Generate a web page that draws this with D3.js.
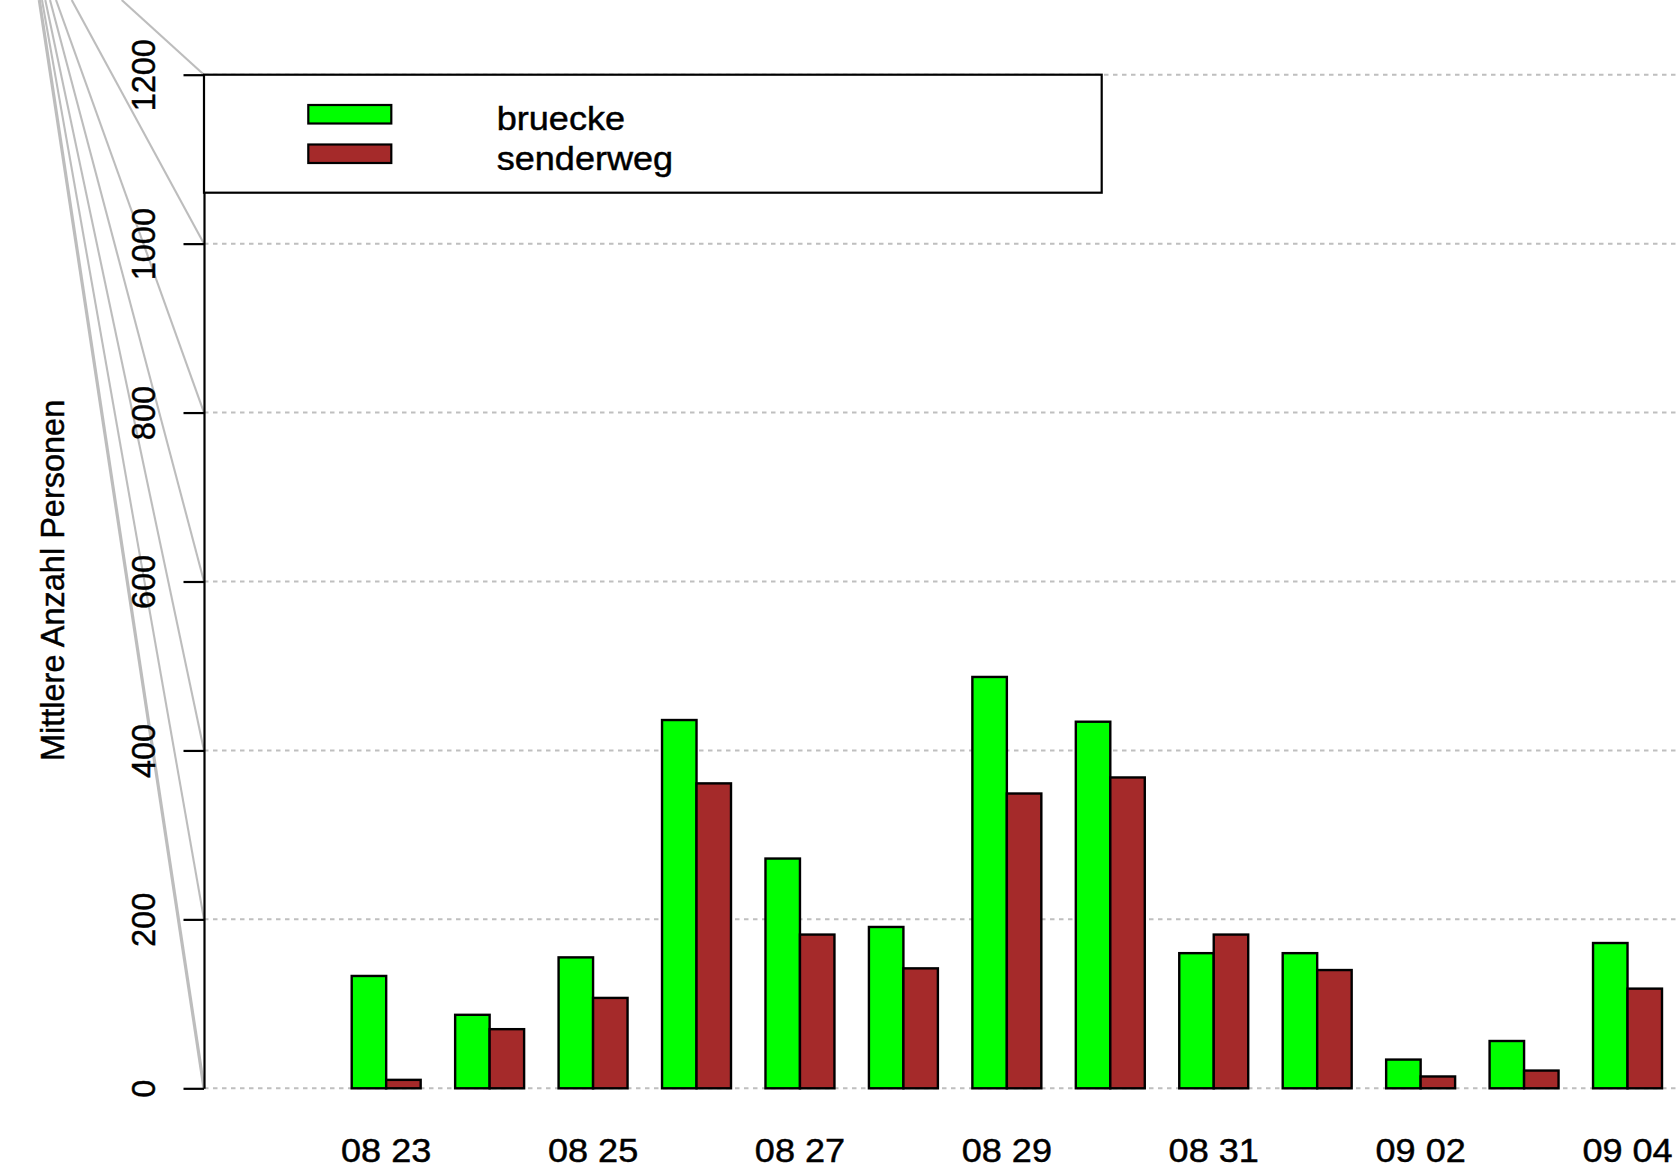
<!DOCTYPE html>
<html>
<head>
<meta charset="utf-8">
<script src="https://cdn.jsdelivr.net/npm/d3@7"></script>
<style>
  html, body { margin: 0; padding: 0; background: #fff; }
  svg { display: block; }
  text { font-family: "Liberation Sans", Arial, Helvetica, sans-serif; fill: #000; stroke: #000; stroke-width: 0.45px; }
</style>
</head>
<body>
<svg id="chart" width="1676" height="1170"></svg>
<script>
// Daily mean visitor counts at two counting stations
const days = ["08 23", "08 24", "08 25", "08 26", "08 27", "08 28", "08 29",
              "08 30", "08 31", "09 01", "09 02", "09 03", "09 04"];
const seriesNames = ["bruecke", "senderweg"];
const bruecke   = [133, 87, 155, 436, 272, 191, 487, 434, 160, 160, 34, 56, 172];
const senderweg = [10, 70, 107, 361, 182, 142, 349, 368, 182, 140, 14, 21, 118];
const yTicks = [0, 200, 400, 600, 800, 1000, 1200];
const xTickLabels = days.filter((d, i) => i % 2 === 0);

const colors = { bruecke: "#00ff00", senderweg: "#a52a2a" };

// layout
const W = 1676, H = 1170;
const axisX = 204;
const yTop = 74.7, yBottom = 1088.3;
const barsLeft = 351.7, barsRight = 1662;
const textStretch = 1.11;
// where the grey leader lines enter from the top edge, one per y tick
const leaderTopX = [39.3, 42, 45.3, 50, 56, 71.7, 121.7];

const svg = d3.select("#chart");

const y = d3.scaleLinear().domain([0, 1200]).range([yBottom, yTop]);
const x = d3.scaleBand().domain(days).range([barsLeft, barsRight])
  .paddingInner(1 / 3).paddingOuter(0);
const xs = d3.scaleBand().domain(seriesNames).range([0, x.bandwidth()]).padding(0);

// grey leader lines running down to each tick
svg.append("g").selectAll("line").data(yTicks).join("line")
  .attr("x1", (d, i) => leaderTopX[i]).attr("y1", 0)
  .attr("x2", axisX).attr("y2", d => y(d))
  .attr("stroke", "#bdbdbd")
  .attr("stroke-width", (d) => d === 0 ? 3.2 : 2.1);

// dotted horizontal grid
svg.append("g").selectAll("line").data(yTicks).join("line")
  .attr("x1", axisX).attr("x2", W)
  .attr("y1", d => y(d)).attr("y2", d => y(d))
  .attr("stroke", "#bfbfbf").attr("stroke-width", 2)
  .attr("stroke-dasharray", "4.5,4.5");

// bars
const rows = days.map((d, i) => ({ day: d, bruecke: bruecke[i], senderweg: senderweg[i] }));
svg.append("g").selectAll("g").data(rows).join("g")
  .attr("transform", d => `translate(${x(d.day)},0)`)
  .selectAll("rect")
  .data(d => seriesNames.map(k => ({ key: k, value: d[k] })))
  .join("rect")
  .attr("x", d => xs(d.key))
  .attr("width", xs.bandwidth())
  .attr("y", d => y(d.value))
  .attr("height", d => y(0) - y(d.value))
  .attr("fill", d => colors[d.key])
  .attr("stroke", "#000").attr("stroke-width", 2.4);

// y axis
const yAxis = d3.axisLeft(y).tickValues(yTicks).tickSize(20.5).tickSizeOuter(0).tickFormat("");
const gy = svg.append("g").attr("transform", `translate(${axisX},0)`).call(yAxis);
gy.selectAll("path, line").attr("stroke", "#000").attr("stroke-width", 2.2);
gy.selectAll(".tick").append("text")
  .attr("transform", "translate(-49,0) rotate(-90)")
  .attr("text-anchor", "middle")
  .attr("font-size", 32.5)
  .text(d => d);

// x labels (every second day)
const xAxis = d3.axisBottom(x).tickValues(xTickLabels).tickSize(0).tickFormat("");
const gx = svg.append("g").attr("transform", `translate(0,${yBottom})`).call(xAxis);
gx.select(".domain").remove();
gx.selectAll(".tick").append("text")
  .attr("transform", `translate(0,73.4) scale(${textStretch},1)`)
  .attr("text-anchor", "middle")
  .attr("font-size", 32.5)
  .text(d => d);

// y axis title
svg.append("text")
  .attr("transform", "translate(64,580.4) rotate(-90)")
  .attr("text-anchor", "middle")
  .attr("font-size", 32.5)
  .text("Mittlere Anzahl Personen");

// legend
const legend = svg.append("g");
legend.append("rect")
  .attr("x", axisX).attr("y", y(1200))
  .attr("width", 1101.7 - axisX).attr("height", 192.7 - y(1200))
  .attr("fill", "#fff").attr("stroke", "#000").attr("stroke-width", 2.2);
const items = legend.selectAll("g.item").data(seriesNames).join("g")
  .attr("class", "item")
  .attr("transform", (d, i) => `translate(0,${i * 39.5})`);
items.append("rect")
  .attr("x", 308.3).attr("y", 105).attr("width", 83).attr("height", 18.5)
  .attr("fill", d => colors[d]).attr("stroke", "#000").attr("stroke-width", 2.2);
items.append("text")
  .attr("transform", `translate(496.7,130) scale(${textStretch},1)`)
  .attr("font-size", 32.5)
  .text(d => d);
</script>
</body>
</html>
